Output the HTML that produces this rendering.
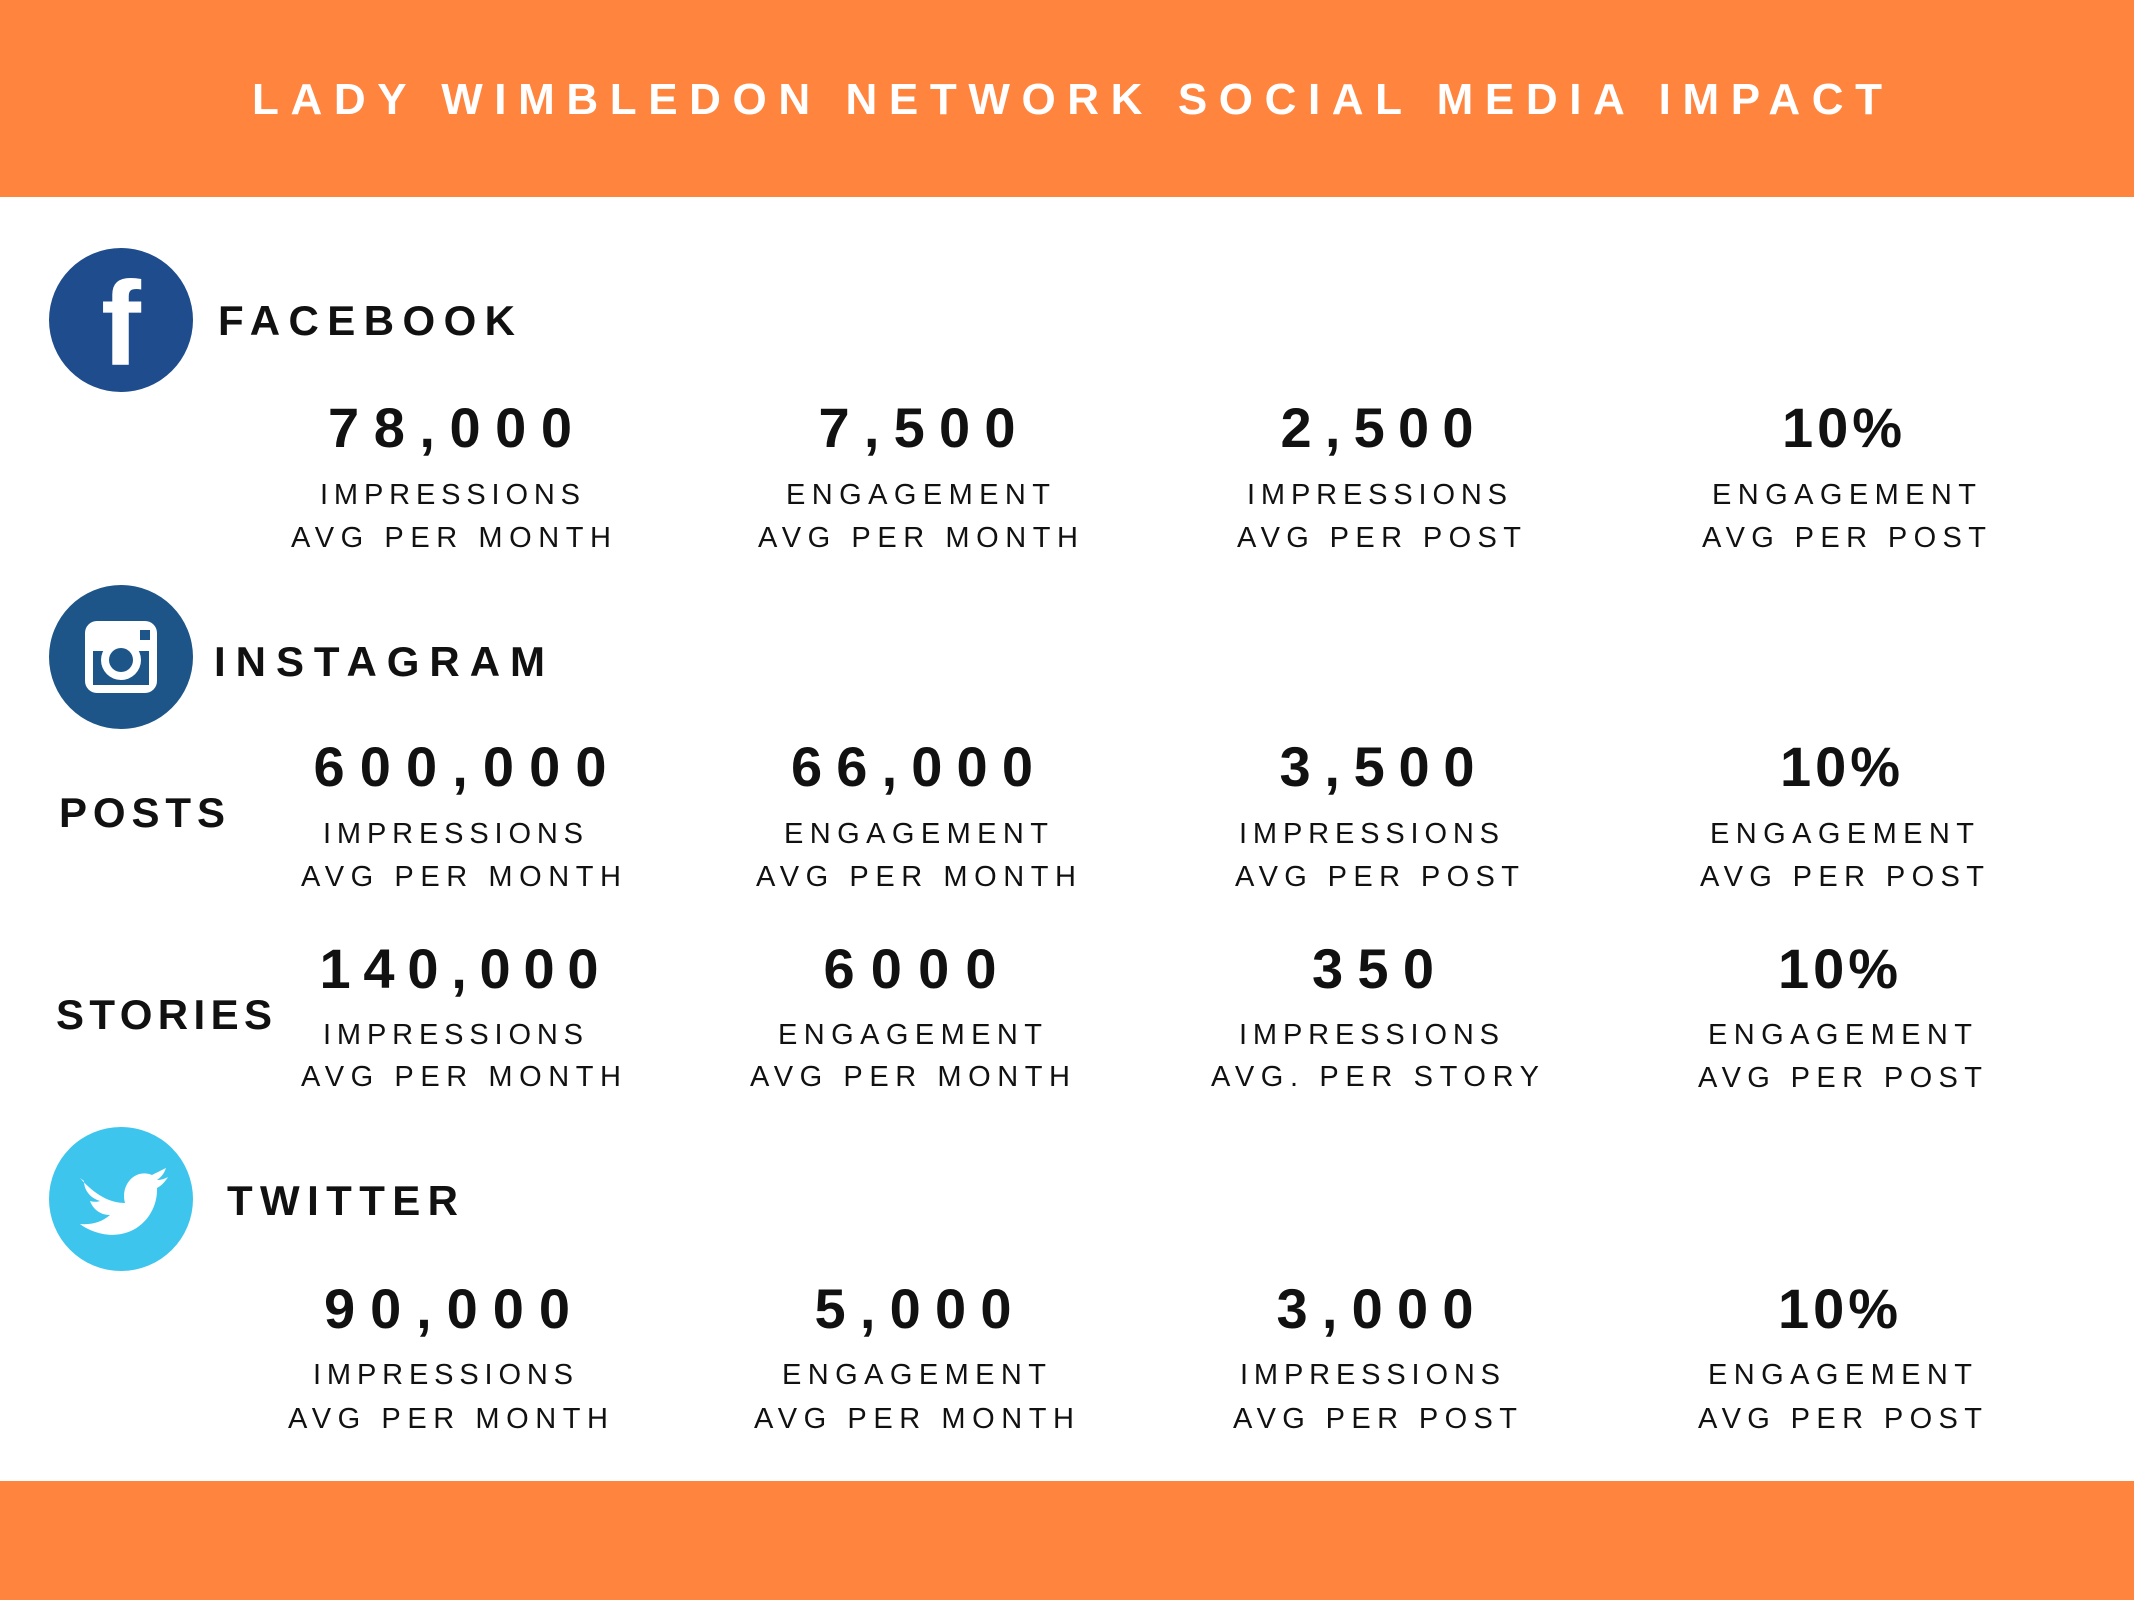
<!DOCTYPE html>
<html><head><meta charset="utf-8"><style>
html,body{margin:0;padding:0;background:#fff;}
svg{display:block;}
text{font-family:"Liberation Sans",sans-serif;}
.n{font-size:56px;font-weight:bold;fill:#111;text-anchor:middle;}
.l{font-size:29px;fill:#111;text-anchor:middle;}
.h{font-size:42px;font-weight:bold;fill:#111;}
</style></head><body>
<svg width="2134" height="1600" viewBox="0 0 2134 1600" xmlns="http://www.w3.org/2000/svg">
<rect x="0" y="0" width="2134" height="197" fill="#FF843D"/>
<rect x="0" y="1481" width="2134" height="119" fill="#FF843D"/>
<text x="1067" y="114" font-size="44" font-weight="bold" fill="#fff" text-anchor="middle" textLength="1630" lengthAdjust="spacing">LADY WIMBLEDON NETWORK SOCIAL MEDIA IMPACT</text>

<!-- Facebook -->
<circle cx="121" cy="320" r="72" fill="#1F4C8C"/>
<text x="121" y="365" font-size="120" font-weight="bold" fill="#fff" text-anchor="middle">f</text>
<text class="h" x="218" y="335" textLength="297" lengthAdjust="spacing">FACEBOOK</text>

<text class="n" x="450" y="447" textLength="244" lengthAdjust="spacing">78,000</text>
<text class="l" x="450" y="504" textLength="260" lengthAdjust="spacing">IMPRESSIONS</text>
<text class="l" x="451" y="547" textLength="320" lengthAdjust="spacing">AVG PER MONTH</text>
<text class="n" x="917" y="447" textLength="197" lengthAdjust="spacing">7,500</text>
<text class="l" x="918" y="504" textLength="264" lengthAdjust="spacing">ENGAGEMENT</text>
<text class="l" x="918" y="547" textLength="320" lengthAdjust="spacing">AVG PER MONTH</text>
<text class="n" x="1377" y="447" textLength="193" lengthAdjust="spacing">2,500</text>
<text class="l" x="1377" y="504" textLength="260" lengthAdjust="spacing">IMPRESSIONS</text>
<text class="l" x="1379" y="547" textLength="284" lengthAdjust="spacing">AVG PER POST</text>
<text class="n" x="1842" y="447" textLength="120" lengthAdjust="spacing">10%</text>
<text class="l" x="1844" y="504" textLength="264" lengthAdjust="spacing">ENGAGEMENT</text>
<text class="l" x="1844" y="547" textLength="284" lengthAdjust="spacing">AVG PER POST</text>

<!-- Instagram -->
<circle cx="121" cy="657" r="72" fill="#1D5589"/>
<rect x="85" y="621" width="72" height="72" rx="12" fill="#fff"/>
<rect x="93" y="651" width="56" height="34" fill="#1D5589"/>
<circle cx="121" cy="660" r="20" fill="#fff"/>
<circle cx="121" cy="660" r="12" fill="#1D5589"/>
<rect x="140" y="630" width="10" height="10" fill="#1D5589"/>
<text class="h" x="214" y="676" textLength="331" lengthAdjust="spacing">INSTAGRAM</text>

<text class="h" x="59" y="827" font-size="40" textLength="166" lengthAdjust="spacing">POSTS</text>
<text class="n" x="460" y="786" textLength="293" lengthAdjust="spacing">600,000</text>
<text class="l" x="453" y="843" textLength="260" lengthAdjust="spacing">IMPRESSIONS</text>
<text class="l" x="461" y="886" textLength="320" lengthAdjust="spacing">AVG PER MONTH</text>
<text class="n" x="912" y="786" textLength="242" lengthAdjust="spacing">66,000</text>
<text class="l" x="916" y="843" textLength="264" lengthAdjust="spacing">ENGAGEMENT</text>
<text class="l" x="916" y="886" textLength="320" lengthAdjust="spacing">AVG PER MONTH</text>
<text class="n" x="1377" y="786" textLength="195" lengthAdjust="spacing">3,500</text>
<text class="l" x="1369" y="843" textLength="260" lengthAdjust="spacing">IMPRESSIONS</text>
<text class="l" x="1377" y="886" textLength="284" lengthAdjust="spacing">AVG PER POST</text>
<text class="n" x="1840" y="786" textLength="120" lengthAdjust="spacing">10%</text>
<text class="l" x="1842" y="843" textLength="264" lengthAdjust="spacing">ENGAGEMENT</text>
<text class="l" x="1842" y="886" textLength="284" lengthAdjust="spacing">AVG PER POST</text>

<text class="h" x="56" y="1029" font-size="40" textLength="216" lengthAdjust="spacing">STORIES</text>
<text class="n" x="459" y="988" textLength="279" lengthAdjust="spacing">140,000</text>
<text class="l" x="453" y="1044" textLength="260" lengthAdjust="spacing">IMPRESSIONS</text>
<text class="l" x="461" y="1086" textLength="320" lengthAdjust="spacing">AVG PER MONTH</text>
<text class="n" x="910" y="988" textLength="173" lengthAdjust="spacing">6000</text>
<text class="l" x="910" y="1044" textLength="264" lengthAdjust="spacing">ENGAGEMENT</text>
<text class="l" x="910" y="1086" textLength="320" lengthAdjust="spacing">AVG PER MONTH</text>
<text class="n" x="1373" y="988" textLength="122" lengthAdjust="spacing">350</text>
<text class="l" x="1369" y="1044" textLength="260" lengthAdjust="spacing">IMPRESSIONS</text>
<text class="l" x="1375" y="1086" textLength="328" lengthAdjust="spacing">AVG. PER STORY</text>
<text class="n" x="1838" y="988" textLength="120" lengthAdjust="spacing">10%</text>
<text class="l" x="1840" y="1044" textLength="264" lengthAdjust="spacing">ENGAGEMENT</text>
<text class="l" x="1840" y="1087" textLength="284" lengthAdjust="spacing">AVG PER POST</text>

<!-- Twitter -->
<circle cx="121" cy="1199" r="72" fill="#3EC5EE"/>
<path d="M80 1178 C95 1195 110 1203 125 1203 C120 1185 135 1168 152 1175 C158 1172 162 1170 166 1168 C164 1174 161 1177 157 1180 C161 1180 164 1179 168 1177 C165 1182 161 1186 157 1188 C158 1215 135 1240 103 1234 C93 1232 85 1228 80 1224 C92 1225 102 1222 110 1215 C100 1215 93 1209 90 1201 C94 1202 97 1202 100 1201 C90 1198 84 1190 84 1181 Z" fill="#fff"/>
<text class="h" x="227" y="1215" textLength="231" lengthAdjust="spacing">TWITTER</text>

<text class="n" x="447" y="1328" textLength="246" lengthAdjust="spacing">90,000</text>
<text class="l" x="443" y="1384" textLength="260" lengthAdjust="spacing">IMPRESSIONS</text>
<text class="l" x="448" y="1428" textLength="320" lengthAdjust="spacing">AVG PER MONTH</text>
<text class="n" x="913" y="1328" textLength="197" lengthAdjust="spacing">5,000</text>
<text class="l" x="914" y="1384" textLength="264" lengthAdjust="spacing">ENGAGEMENT</text>
<text class="l" x="914" y="1428" textLength="320" lengthAdjust="spacing">AVG PER MONTH</text>
<text class="n" x="1375" y="1328" textLength="197" lengthAdjust="spacing">3,000</text>
<text class="l" x="1370" y="1384" textLength="260" lengthAdjust="spacing">IMPRESSIONS</text>
<text class="l" x="1375" y="1428" textLength="284" lengthAdjust="spacing">AVG PER POST</text>
<text class="n" x="1838" y="1328" textLength="120" lengthAdjust="spacing">10%</text>
<text class="l" x="1840" y="1384" textLength="264" lengthAdjust="spacing">ENGAGEMENT</text>
<text class="l" x="1840" y="1428" textLength="284" lengthAdjust="spacing">AVG PER POST</text>
</svg>
</body></html>
